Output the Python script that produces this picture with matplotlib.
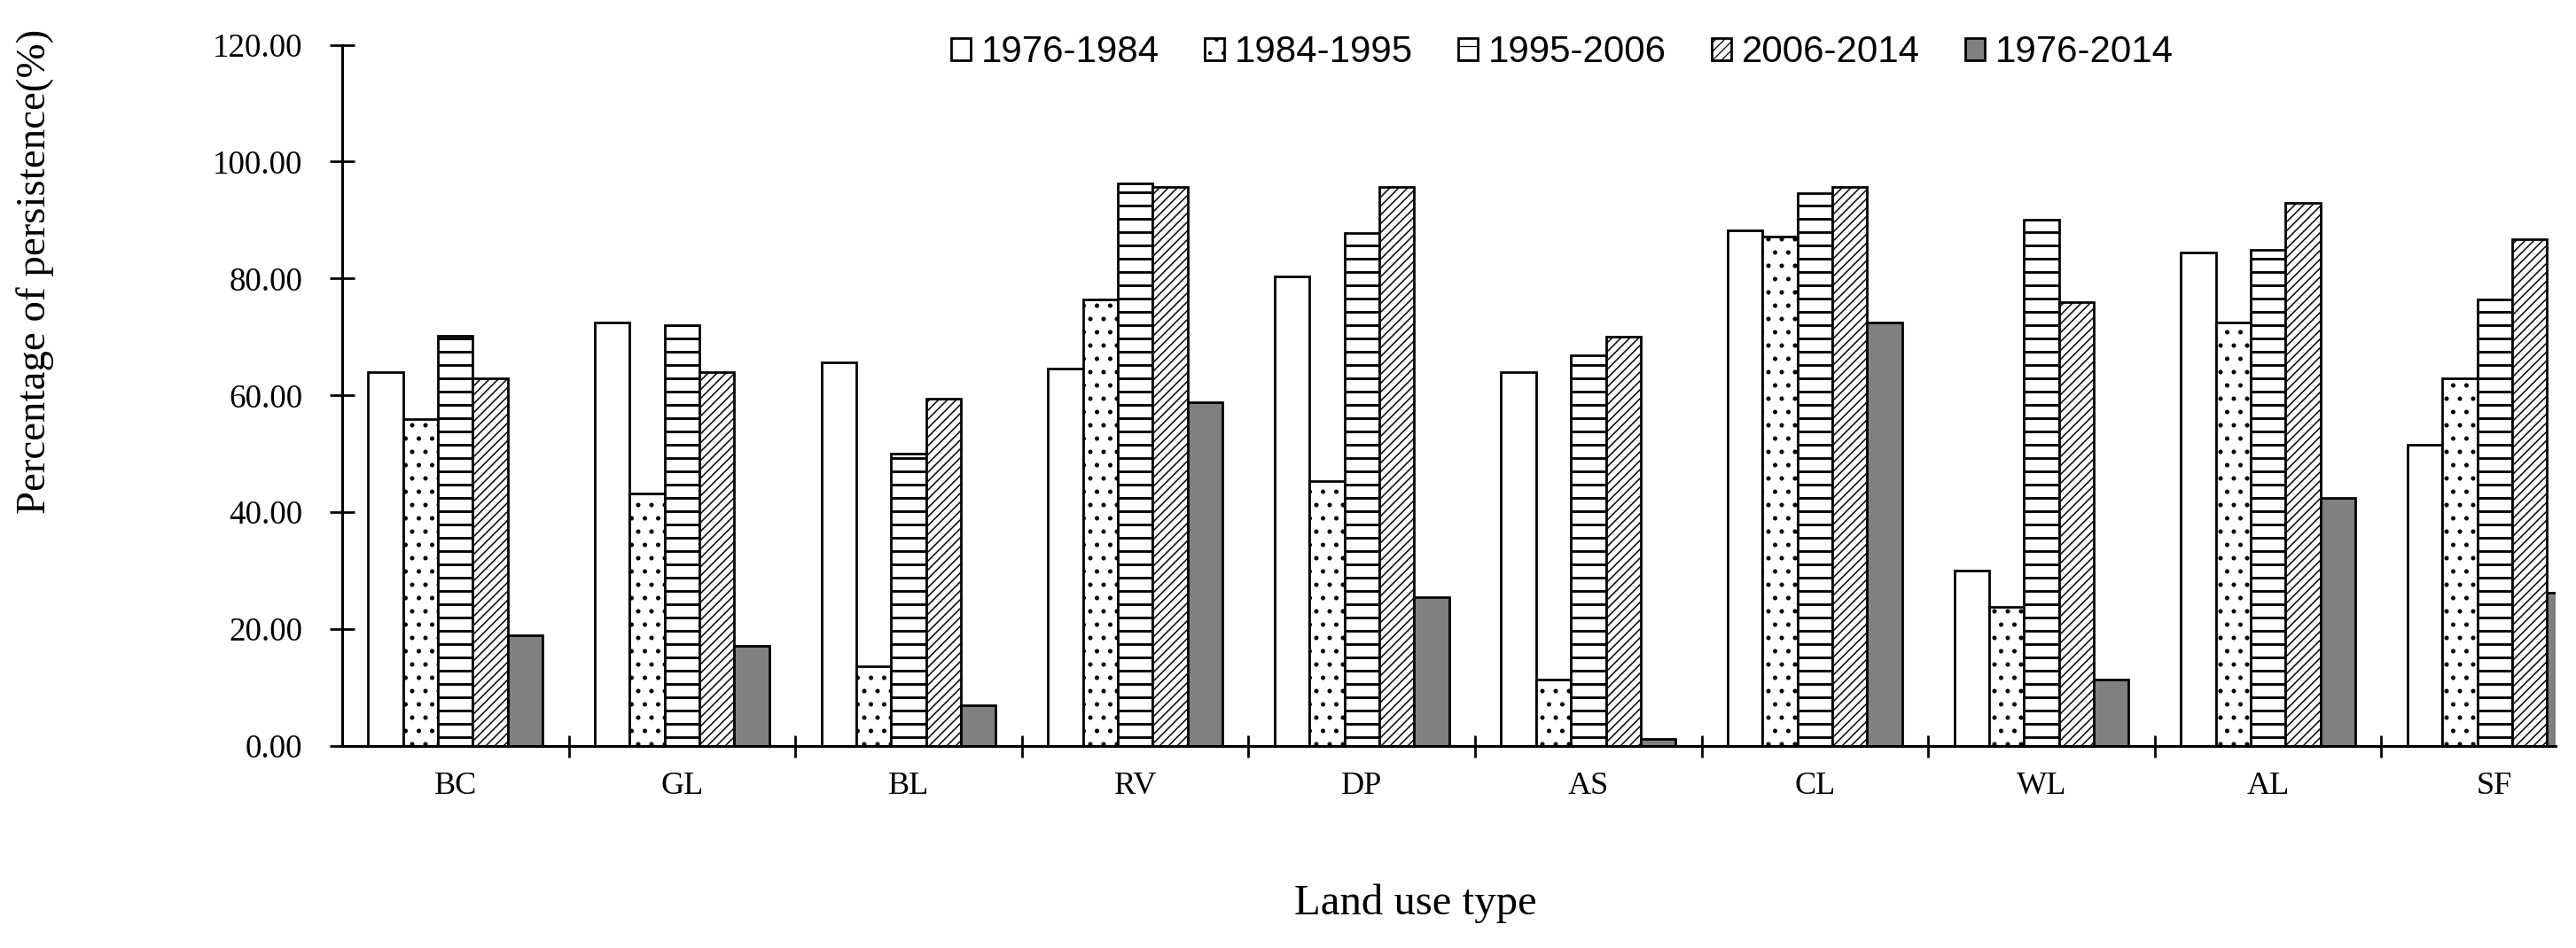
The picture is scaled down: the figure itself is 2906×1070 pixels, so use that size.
import numpy as np
import matplotlib
matplotlib.use("Agg")
import matplotlib.pyplot as plt

categories = ["BC", "GL", "BL", "RV", "DP", "AS", "CL", "WL", "AL", "SF"]
series_names = ["1976-1984", "1984-1995", "1995-2006", "2006-2014", "1976-2014"]
v_1976_1984 = [64.0, 72.5, 65.6, 64.6, 80.3, 64.0, 88.3, 30.0, 84.4, 51.5]
v_1984_1995 = [56.0, 43.2, 13.7, 76.4, 45.4, 11.4, 87.2, 23.8, 72.5, 62.9]
v_1995_2006 = [70.2, 72.0, 50.0, 96.2, 87.8, 66.8, 94.6, 90.1, 84.9, 76.4]
v_2006_2014 = [62.9, 64.0, 59.4, 95.6, 95.6, 70.1, 95.6, 75.9, 92.9, 86.7]
v_1976_2014 = [18.9, 17.1, 6.9, 58.9, 25.5, 1.2, 72.5, 11.4, 42.5, 26.2]
series_values = [v_1976_1984, v_1984_1995, v_1995_2006, v_2006_2014, v_1976_2014]
y_ticks = [0, 20, 40, 60, 80, 100, 120]

DPI = 90
W, H = 2906, 1070
plt.rcParams['font.family'] = ['Liberation Serif', 'DejaVu Serif']

styles = [
    dict(facecolor='white', hatch=None, hlw=2.0),
    dict(facecolor='white', hatch='.', hlw=1.6),
    dict(facecolor='white', hatch='-', hlw=2.3),
    dict(facecolor='white', hatch='///', hlw=1.2),
    dict(facecolor='#808080', hatch=None, hlw=2.0),
]

fig = plt.figure(figsize=(W / DPI, H / DPI), dpi=DPI)
left, right = 386 / W, 2883 / W
bottom, top = 1 - 842 / H, 1 - 50.5 / H
ax = fig.add_axes([left, bottom, right - left, top - bottom])

x = np.arange(len(categories))
width = 0.154
handles = []
for i, (name, vals, st) in enumerate(zip(series_names, series_values, styles)):
    with plt.rc_context({'hatch.linewidth': st['hlw']}):
        bars = ax.bar(x + (i - 2) * width, vals, width, facecolor=st['facecolor'],
                      edgecolor='black', linewidth=2.2, hatch=st['hatch'], label=name)
        for b in bars:
            try:
                b.set_hatch_linewidth(st['hlw'])
            except Exception:
                pass
    handles.append(bars)

ax.set_xlim(-0.5, 9.269)
ax.set_ylim(0, 120)
for s in ['top', 'right']:
    ax.spines[s].set_visible(False)
for s in ['left', 'bottom']:
    ax.spines[s].set_linewidth(2.4)

ax.set_yticks(y_ticks)
ax.set_yticklabels([f"{v:.2f}" for v in y_ticks])
ax.tick_params(axis='y', direction='inout', length=21.6, width=2.2, pad=25,
               labelsize=29.6)
ax.set_xticks(x)
ax.set_xticklabels(categories)
ax.tick_params(axis='x', which='major', length=0, pad=23, labelsize=29)
ax.set_xticks(np.arange(0.5, 9.5, 1.0), minor=True)
ax.tick_params(axis='x', which='minor', direction='inout', length=20, width=2.2)

fig.text(40 / W, 1 - 306 / H, "Percentage of persistence(%)", rotation=90,
         ha='center', va='center', fontsize=37.5)
fig.text(1597 / W, 1 - 1020 / H, "Land use type", ha='center', va='center',
         fontsize=39)

leg_fs = 33.6
em = leg_fs * DPI / 72
fig.legend(handles, series_names, loc='center left',
           bbox_to_anchor=(1073 / W, 1 - 59 / H), ncol=5, frameon=False,
           prop={'family': ['Liberation Sans', 'DejaVu Sans'], 'size': leg_fs},
           handlelength=22 / em, handleheight=23 / em, handletextpad=12 / em,
           columnspacing=51 / em, borderpad=0, borderaxespad=0)

fig.savefig("out.png", dpi=DPI, facecolor='white')
